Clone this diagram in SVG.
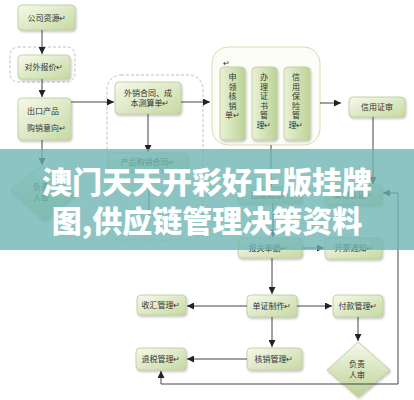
<svg xmlns="http://www.w3.org/2000/svg" width="414" height="400" viewBox="0 0 414 400">
<defs>
<linearGradient id="g" x1="0" y1="0" x2="1" y2="1">
<stop offset="0" stop-color="#f6f9ec"/>
<stop offset="1" stop-color="#c6d9a2"/>
</linearGradient>
<linearGradient id="gv" x1="0" y1="0" x2="1" y2="0">
<stop offset="0" stop-color="#e9f1d6"/>
<stop offset="1" stop-color="#bdd398"/>
</linearGradient>
<linearGradient id="gd" x1="0" y1="0" x2="0" y2="1">
<stop offset="0" stop-color="#f4f8ea"/>
<stop offset="1" stop-color="#bcd394"/>
</linearGradient>
<filter id="sh" x="-20%" y="-20%" width="140%" height="150%">
<feDropShadow dx="1" dy="1.5" stdDeviation="1" flood-color="#000" flood-opacity="0.25"/>
</filter>
<marker id="ar" viewBox="0 0 10 10" refX="10" refY="5" markerWidth="7" markerHeight="7" orient="auto" markerUnits="userSpaceOnUse">
<path d="M0,0 L10,5 L0,10 z" fill="#222"/>
</marker>
</defs>
<style>
.b{fill:url(#g);stroke:#b9cb95;stroke-width:0.8;filter:url(#sh)}
.v{fill:url(#gv);stroke:#b9cb95;stroke-width:0.8;filter:url(#sh)}
.d{fill:url(#gd);stroke:#b9cb95;stroke-width:0.8;filter:url(#sh)}
.dash{fill:none;stroke:#bfc2ae;stroke-width:1;stroke-dasharray:3,2}
.t{font-family:"Noto Sans CJK SC","Noto Sans",sans-serif;font-size:8px;fill:#333}
.m{text-anchor:middle}
.c{fill:none;stroke:#444;stroke-width:1}
.ca{fill:none;stroke:#444;stroke-width:1;marker-end:url(#ar)}
.ban{font-family:"Noto Sans CJK SC","Noto Sans",sans-serif;font-size:30px;font-weight:900;fill:#fff;text-anchor:middle}
</style>

<rect class="dash" x="10" y="47" width="65" height="35" rx="8"/>
<rect class="dash" x="107" y="75" width="96" height="165" rx="14"/>

<g id="n-gongsiziyuan"><rect class="b" x="18" y="5" width="57" height="25" rx="4"/><text class="t m" x="47" y="21">公司资源↵</text></g>
<g id="n-duiwaibaojia"><rect class="b" x="18" y="55" width="52" height="24" rx="4"/><text class="t m" x="44" y="70">对外报价↵</text></g>
<g id="n-chukou"><rect class="b" x="18" y="98" width="53" height="42" rx="4"/><text class="t" x="27" y="114">出口产品</text><text class="t" x="27" y="131">购销意向↵</text></g>
<g id="n-waixiao"><rect class="b" x="115" y="82" width="66" height="32" rx="4"/><text class="t m" x="148" y="96">外销合同、成</text><text class="t m" x="150" y="106">本测算单↵</text></g>
<g id="n-chanpin"><rect class="b" x="108" y="153" width="80" height="18" rx="3"/><text class="t m" x="148" y="165">产品购销合同↵</text></g>

<g id="n-group">
<rect x="212" y="47" width="108" height="98" rx="16" fill="#fdfdf8" stroke="#d6dcb4" stroke-width="1"/>
<text class="t" x="223" y="66" font-size="6">↵</text>
<rect class="v" x="220" y="67" width="25" height="73" rx="4"/>
<text class="t m" x="232.5"><tspan x="232.5" y="80">申</tspan><tspan x="232.5" dy="9.5">领</tspan><tspan x="232.5" dy="9.5">核</tspan><tspan x="232.5" dy="9.5">销</tspan><tspan x="232.5" dy="9.5">单↵</tspan></text>
<rect class="v" x="252" y="67" width="25" height="73" rx="4"/>
<text class="t m" x="264"><tspan x="264" y="80">办</tspan><tspan x="264" dy="9.5">理</tspan><tspan x="264" dy="9.5">证</tspan><tspan x="264" dy="9.5">书</tspan><tspan x="264" dy="9.5">管</tspan><tspan x="264" dy="9.5">理↵</tspan></text>
<rect class="v" x="284" y="67" width="26" height="73" rx="4"/>
<text class="t m" x="296"><tspan x="296" y="80">信</tspan><tspan x="296" dy="9.5">用</tspan><tspan x="296" dy="9.5">保</tspan><tspan x="296" dy="9.5">险</tspan><tspan x="296" dy="9.5">管</tspan><tspan x="296" dy="9.5">理↵</tspan></text>
</g>

<g id="n-xinyong"><rect class="b" x="349" y="97" width="56" height="20" rx="4"/><text class="t m" x="377" y="110">信用证审</text></g>
<g id="n-chuyun"><rect class="b" x="238" y="187" width="64" height="16" rx="3"/><text class="t m" x="270" y="198">出运通知↵</text></g>
<g id="n-shangjian"><rect class="b" x="325" y="185" width="57" height="20" rx="3"/><text class="t m" x="353" y="198">商检认证↵</text></g>
<g id="n-baoguan"><rect class="b" x="238" y="238" width="64" height="20" rx="4"/><text class="t m" x="268" y="251">报关单据↵</text></g>
<g id="n-kaipiao"><rect class="b" x="325" y="238" width="57" height="21" rx="4"/><text class="t m" x="354" y="251">开票通知↵</text></g>
<g id="n-danzheng"><rect class="b" x="247" y="295" width="50" height="22" rx="4"/><text class="t m" x="272" y="309">单证制作↵</text></g>
<g id="n-shouhui"><rect class="b" x="137" y="295" width="49" height="20" rx="4"/><text class="t m" x="161" y="308">收汇管理↵</text></g>
<g id="n-fukuan"><rect class="b" x="333" y="295" width="50" height="22" rx="4"/><text class="t m" x="358" y="309">付款管理↵</text></g>
<g id="n-hexiao"><rect class="b" x="247" y="348" width="55" height="22" rx="4"/><text class="t m" x="274" y="362">核销管理↵</text></g>
<g id="n-tuishui"><rect class="b" x="136" y="348" width="50" height="22" rx="4"/><text class="t m" x="161" y="362">退税管理↵</text></g>
<g id="n-fuze1"><path class="d" d="M42,166 L75,195 L44,221 L10,190 z"/><text class="t m" x="41" y="190">负责</text><text class="t m" x="41" y="201">人审</text></g>
<g id="n-fuze2"><path class="d" d="M358,342 L390,370 L358,397 L327,370 z"/><text class="t m" x="357" y="367">负责</text><text class="t m" x="357" y="378">人审</text></g>

<g id="connectors">
<path class="ca" d="M42,30 L42,54"/>
<path class="ca" d="M42,79 L42,97"/>
<path class="ca" d="M71,102 L114,102"/>
<path class="ca" d="M181,102 L210,102"/>
<path class="ca" d="M148,114 L148,152"/>
<path class="ca" d="M320,103 L341,103"/>
<path class="ca" d="M373,117 L373,184"/>
<path class="ca" d="M271,145 L271,186"/>
<path class="ca" d="M42,140 L42,165"/>
<path class="c" d="M149,171 L149,222"/>
<path class="ca" d="M273,203 L273,237"/>
<path class="ca" d="M302,248 L324,248"/>
<path class="ca" d="M272,258 L272,294"/>
<path class="ca" d="M247,306 L187,306"/>
<path class="ca" d="M297,306 L332,306"/>
<path class="ca" d="M272,317 L272,347"/>
<path class="ca" d="M247,359 L187,359"/>
<path class="ca" d="M358,317 L358,341"/>
<path class="ca" d="M398,384 L161,384 L161,371"/>
<path class="ca" d="M398,384 L398,193 L383,193"/>
</g>

<rect x="0" y="149" width="414" height="101" fill="#6fb5b5" opacity="0.8"/>
<text class="ban" x="207" y="193">澳门天天开彩好正版挂牌</text>
<text class="ban" x="207" y="232">图,供应链管理决策资料</text>
</svg>
